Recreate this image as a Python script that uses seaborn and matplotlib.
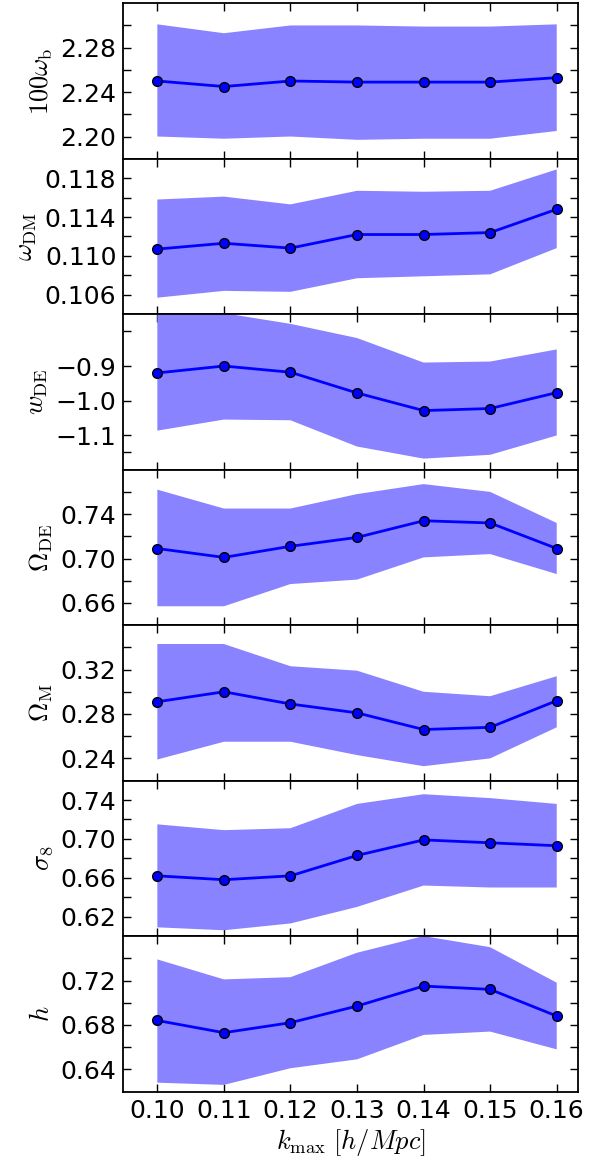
import numpy as np
import pandas as pd
import matplotlib
matplotlib.use("Agg")
import matplotlib.pyplot as plt
import seaborn as sns
from matplotlib.ticker import FixedLocator

K_MAX = [0.10, 0.11, 0.12, 0.13, 0.14, 0.15, 0.16]

# 100 omega_b
OMB_MEAN = [2.250, 2.245, 2.250, 2.249, 2.249, 2.249, 2.253]
OMB_LO = [2.200, 2.198, 2.200, 2.197, 2.198, 2.198, 2.205]
OMB_HI = [2.301, 2.293, 2.300, 2.300, 2.299, 2.299, 2.301]

# omega_DM
OMDM_MEAN = [0.1107, 0.1113, 0.1108, 0.1122, 0.1122, 0.1124, 0.1148]
OMDM_LO = [0.1057, 0.1064, 0.1063, 0.1077, 0.1079, 0.1081, 0.1108]
OMDM_HI = [0.1158, 0.1161, 0.1153, 0.1167, 0.1166, 0.1167, 0.1189]

# w_DE
WDE_MEAN = [-0.920, -0.900, -0.918, -0.978, -1.029, -1.023, -0.977]
WDE_LO = [-1.087, -1.055, -1.057, -1.133, -1.168, -1.157, -1.101]
WDE_HI = [-0.740, -0.747, -0.778, -0.819, -0.890, -0.887, -0.852]

# Omega_DE
ODE_MEAN = [0.709, 0.701, 0.711, 0.719, 0.734, 0.732, 0.709]
ODE_LO = [0.657, 0.657, 0.677, 0.681, 0.701, 0.704, 0.686]
ODE_HI = [0.762, 0.745, 0.745, 0.758, 0.767, 0.760, 0.732]

# Omega_M
OM_MEAN = [0.291, 0.300, 0.289, 0.281, 0.266, 0.268, 0.292]
OM_LO = [0.239, 0.255, 0.255, 0.243, 0.233, 0.240, 0.268]
OM_HI = [0.343, 0.343, 0.323, 0.319, 0.300, 0.296, 0.314]

# sigma_8
S8_MEAN = [0.662, 0.658, 0.662, 0.683, 0.699, 0.696, 0.693]
S8_LO = [0.609, 0.606, 0.613, 0.630, 0.652, 0.650, 0.650]
S8_HI = [0.715, 0.709, 0.711, 0.736, 0.746, 0.742, 0.736]

# h
H_MEAN = [0.684, 0.673, 0.682, 0.697, 0.715, 0.712, 0.688]
H_LO = [0.628, 0.626, 0.641, 0.649, 0.671, 0.674, 0.658]
H_HI = [0.739, 0.721, 0.723, 0.745, 0.760, 0.750, 0.718]

YLABELS = [r"$100\omega_{\rm b}$", r"$\omega_{\rm DM}$", r"$w_{\rm DE}$",
           r"$\Omega_{\rm DE}$", r"$\Omega_{\rm M}$", r"$\sigma_8$", r"$h$"]

MAJOR_TICKS = [[2.20, 2.24, 2.28],
               [0.106, 0.110, 0.114, 0.118],
               [-1.1, -1.0, -0.9],
               [0.66, 0.70, 0.74],
               [0.24, 0.28, 0.32],
               [0.62, 0.66, 0.70, 0.74],
               [0.64, 0.68, 0.72]]
TICK_LABELS = [["2.20", "2.24", "2.28"],
               ["0.106", "0.110", "0.114", "0.118"],
               ["\u22121.1", "\u22121.0", "\u22120.9"],
               ["0.66", "0.70", "0.74"],
               ["0.24", "0.28", "0.32"],
               ["0.62", "0.66", "0.70", "0.74"],
               ["0.64", "0.68", "0.72"]]
MINOR_TICKS = [[2.22, 2.26, 2.30],
               [0.108, 0.112, 0.116],
               [-1.15, -0.8],
               [0.68, 0.72, 0.76],
               [0.26, 0.30, 0.34],
               [0.64, 0.68, 0.72],
               [0.66, 0.70, 0.74]]
YLIMS = [(2.18, 2.32), (0.104, 0.120), (-1.2, -0.75), (0.64, 0.78),
         (0.22, 0.36), (0.60, 0.76), (0.62, 0.76)]

XTICK_LABELS = ["0.10", "0.11", "0.12", "0.13", "0.14", "0.15", "0.16"]

panels = [(OMB_MEAN, OMB_LO, OMB_HI), (OMDM_MEAN, OMDM_LO, OMDM_HI),
          (WDE_MEAN, WDE_LO, WDE_HI), (ODE_MEAN, ODE_LO, ODE_HI),
          (OM_MEAN, OM_LO, OM_HI), (S8_MEAN, S8_LO, S8_HI),
          (H_MEAN, H_LO, H_HI)]

sns.set_style("ticks", {"axes.edgecolor": "black", "text.color": "black",
                        "xtick.color": "black", "ytick.color": "black",
                        "axes.labelcolor": "black"})
plt.rcParams["font.family"] = ["DejaVu Sans"]
plt.rcParams["mathtext.fontset"] = "cm"
plt.rcParams["axes.linewidth"] = 1.3

fig, axes = plt.subplots(7, 1, figsize=(5.99, 11.6), dpi=100, sharex=True)
fig.subplots_adjust(left=0.206, right=0.965, top=0.9972, bottom=0.059, hspace=0)

for i, ax in enumerate(axes):
    mean, lo, hi = panels[i]
    df = pd.DataFrame({"k": K_MAX, "mean": mean, "lo": lo, "hi": hi})
    ax.fill_between(df["k"], df["lo"], df["hi"], facecolor="#8983ff",
                    edgecolor="none", zorder=1)
    sns.lineplot(data=df, x="k", y="mean", ax=ax, color="blue", lw=2,
                 marker="o", markersize=7, markerfacecolor="blue",
                 markeredgecolor="black", markeredgewidth=1, zorder=3)
    ax.set_ylim(*YLIMS[i])
    ax.set_xlim(0.0949, 0.1632)
    ax.yaxis.set_major_locator(FixedLocator(MAJOR_TICKS[i]))
    ax.yaxis.set_minor_locator(FixedLocator(MINOR_TICKS[i]))
    ax.set_yticklabels(TICK_LABELS[i])
    ax.set_ylabel(YLABELS[i], fontsize=19, labelpad=4, color="black")
    ax.set_xlabel("")
    ax.tick_params(axis="both", which="both", direction="in", top=True,
                   right=True, length=6, width=1, labelsize=18, pad=5,
                   colors="black")
    for sp in ax.spines.values():
        sp.set_visible(True)
        sp.set_linewidth(1.3)
        sp.set_color("black")

axes[-1].set_xticks(K_MAX)
axes[-1].set_xticklabels(XTICK_LABELS)
axes[-1].set_xlabel(r"$k_{\rm max}\ [h/Mpc]$", fontsize=19, labelpad=3,
                    color="black")

fig.savefig("out.png", dpi=100)
